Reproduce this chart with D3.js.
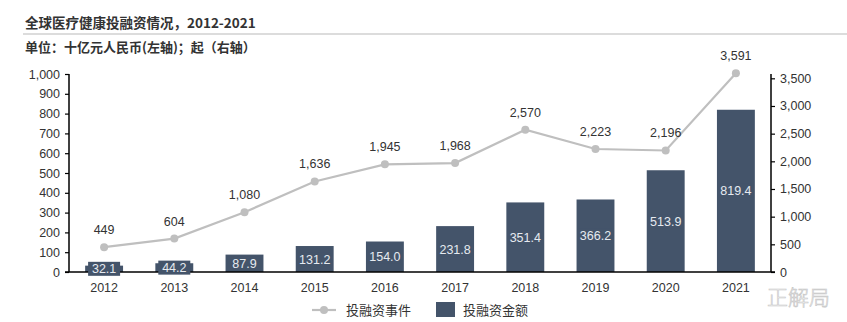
<!DOCTYPE html>
<html><head><meta charset="utf-8">
<script src="https://cdn.jsdelivr.net/npm/d3@7"></script>
<style>
body{margin:0;background:#fff;}
svg{display:block;font-family:"Liberation Sans",Arial,sans-serif;}
</style></head><body>
<svg id="chart" width="847" height="322"></svg>
<script>
const years = ["2012","2013","2014","2015","2016","2017","2018","2019","2020","2021"];
const amounts = [32.1,44.2,87.9,131.2,154.0,231.8,351.4,366.2,513.9,819.4];
const events = [449,604,1080,1636,1945,1968,2570,2223,2196,3591];
const leftTicks = [0,100,200,300,400,500,600,700,800,900,1000];
const rightTicks = [0,500,1000,1500,2000,2500,3000,3500];
const title = "全球医疗健康投融资情况，2012-2021";
const subtitle = "单位：十亿元人民币(左轴)；起（右轴）";
const legendLabels = ["投融资事件","投融资金额"];

const svg = d3.select("#chart");
const L = 69, R = 771, T = 74, B = 272;
const barColor = "#44546A", lineColor = "#BFBFBF", textColor = "#333333";

svg.append("text").attr("x",25).attr("y",28).attr("font-size",13.5).attr("font-weight","bold")
  .attr("fill",textColor).attr("font-family","'Noto Sans CJK SC',sans-serif").text(title);
svg.append("line").attr("x1",23).attr("x2",847).attr("y1",34).attr("y2",34).attr("stroke","#d0d0d0").attr("stroke-width",1.5);
svg.append("text").attr("x",25).attr("y",52).attr("font-size",13).attr("font-weight","bold")
  .attr("fill",textColor).attr("font-family","'Noto Sans CJK SC',sans-serif").text(subtitle);

const x = d3.scaleBand().domain(years).range([L,R]).paddingInner(0.46).paddingOuter(0.23);
const yL = d3.scaleLinear().domain([0,1000]).range([B,T]);
const yR = d3.scaleLinear().domain([0,3578]).range([B,T]);

// bars
const g = svg.append("g");
g.selectAll("rect.bar").data(amounts).join("rect").attr("class","bar")
  .attr("x",(d,i)=>x(years[i])).attr("width",x.bandwidth())
  .attr("y",d=>yL(d)).attr("height",d=>B-yL(d)).attr("fill",barColor);

// line
const cx = (i)=>x(years[i])+x.bandwidth()/2;
const line = d3.line().x((d,i)=>cx(i)).y(d=>yR(d));
g.append("path").datum(events).attr("d",line).attr("fill","none").attr("stroke",lineColor).attr("stroke-width",2.2);
g.selectAll("circle.pt").data(events).join("circle").attr("class","pt")
  .attr("cx",(d,i)=>cx(i)).attr("cy",d=>yR(d)).attr("r",4).attr("fill",lineColor);
const fmt0 = d3.format(",");
g.selectAll("text.plab").data(events).join("text").attr("class","plab")
  .attr("x",(d,i)=>cx(i)).attr("y",d=>yR(d)-13).attr("text-anchor","middle")
  .attr("font-size",12.5).attr("fill",textColor).text(d=>fmt0(d));

// axes
const axL = svg.append("g").attr("transform",`translate(${L},0)`)
  .call(d3.axisLeft(yL).tickValues(leftTicks).tickFormat(d3.format(",")).tickSize(4).tickPadding(5));
const axR = svg.append("g").attr("transform",`translate(${R},0)`)
  .call(d3.axisRight(yR).tickValues(rightTicks).tickFormat(d3.format(",")).tickSize(4).tickPadding(5));
const axB = svg.append("g").attr("transform",`translate(0,${B})`)
  .call(d3.axisBottom(x).tickSize(0).tickPadding(11));
[axL,axR,axB].forEach(a=>{
  a.select(".domain").attr("stroke","#000").attr("stroke-width",1.5);
  a.selectAll(".tick line").attr("stroke","#000").attr("stroke-width",1.2);
  a.selectAll("text").attr("font-size",12.5).attr("fill",textColor).attr("font-family","'Liberation Sans',Arial,sans-serif");
});
axL.select(".domain").attr("d",`M0,${T}V${B}`);
axR.select(".domain").attr("d",`M0,${T}V${B}`);
axB.select(".domain").attr("d",`M${L-4},0H${R+4}`);

// bar labels with filled boxes (drawn above the axis line)
const fmt1 = d3.format(".1f");
const lab = svg.append("g").selectAll("g.blab").data(amounts).join("g").attr("class","blab")
  .attr("transform",(d,i)=>`translate(${x(years[i])+x.bandwidth()/2},${(yL(d)+B)/2})`);
lab.append("rect").attr("x",-16).attr("y",-7).attr("width",32).attr("height",14).attr("fill",barColor);
lab.append("text").attr("text-anchor","middle").attr("dy","0.36em").attr("font-size",12.5)
  .attr("fill","#E6EAF0").text(d=>fmt1(d));

// legend
const lg = svg.append("g");
lg.append("line").attr("x1",312).attr("x2",336).attr("y1",310).attr("y2",310).attr("stroke",lineColor).attr("stroke-width",2.2);
lg.append("circle").attr("cx",324).attr("cy",310).attr("r",4).attr("fill",lineColor);
lg.append("text").attr("x",346).attr("y",315).attr("font-size",13).attr("fill",textColor)
  .attr("font-family","'Noto Sans CJK SC',sans-serif").text(legendLabels[0]);
lg.append("rect").attr("x",436).attr("y",302).attr("width",19).attr("height",15).attr("fill",barColor);
lg.append("text").attr("x",463).attr("y",315).attr("font-size",13).attr("fill",textColor)
  .attr("font-family","'Noto Sans CJK SC',sans-serif").text(legendLabels[1]);

// watermark
svg.append("text").attr("x",767).attr("y",305).attr("font-size",21).attr("fill","#ffffff")
  .attr("stroke","#c4c4c4").attr("stroke-width",0.6).attr("font-family","'Noto Sans CJK SC',sans-serif")
  .attr("font-weight",300).text("正解局");
</script></body></html>
